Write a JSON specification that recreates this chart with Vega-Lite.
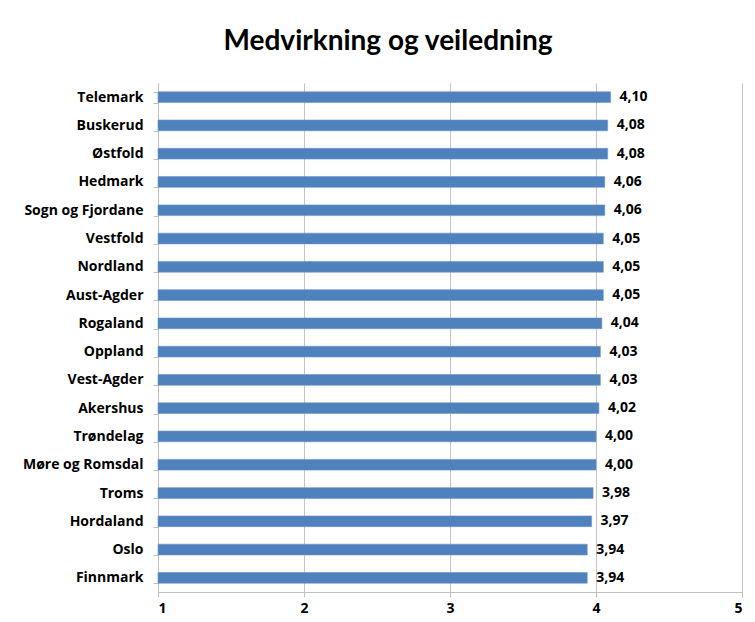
{
  "$schema": "https://vega.github.io/schema/vega-lite/v6.json",
  "width": 584,
  "height": 509,
  "autosize": {"type": "none"},
  "padding": {"left": 158, "top": 83, "right": 13, "bottom": 30},
  "background": "white",
  "config": {
    "locale": {"number": {"decimal": ",", "thousands": " ", "grouping": [3], "currency": ["", " kr"]}},
    "view": {"stroke": null},
    "font": "Open Sans"
  },
  "title": {
    "text": "Medvirkning og veiledning",
    "font": "Lato",
    "fontSize": 28,
    "fontWeight": "bold",
    "color": "#000000",
    "anchor": "middle",
    "frame": "group",
    "dx": -62,
    "offset": 20
  },
  "data": {
    "values": [
      {"fylke": "Telemark", "verdi": 4.10},
      {"fylke": "Buskerud", "verdi": 4.08},
      {"fylke": "Østfold", "verdi": 4.08},
      {"fylke": "Hedmark", "verdi": 4.06},
      {"fylke": "Sogn og Fjordane", "verdi": 4.06},
      {"fylke": "Vestfold", "verdi": 4.05},
      {"fylke": "Nordland", "verdi": 4.05},
      {"fylke": "Aust-Agder", "verdi": 4.05},
      {"fylke": "Rogaland", "verdi": 4.04},
      {"fylke": "Oppland", "verdi": 4.03},
      {"fylke": "Vest-Agder", "verdi": 4.03},
      {"fylke": "Akershus", "verdi": 4.02},
      {"fylke": "Trøndelag", "verdi": 4.00},
      {"fylke": "Møre og Romsdal", "verdi": 4.00},
      {"fylke": "Troms", "verdi": 3.98},
      {"fylke": "Hordaland", "verdi": 3.97},
      {"fylke": "Oslo", "verdi": 3.94},
      {"fylke": "Finnmark", "verdi": 3.94}
    ]
  },
  "encoding": {
    "y": {
      "field": "fylke",
      "type": "nominal",
      "sort": null,
      "scale": {"paddingInner": 0.62, "paddingOuter": 0.31},
      "axis": {
        "title": null,
        "tickBand": "extent",
        "domainColor": "#bfbfbf",
        "tickColor": "#bfbfbf",
        "tickSize": 5,
        "labelFont": "Open Sans",
        "labelFontSize": 14,
        "labelFontWeight": "bold",
        "labelColor": "#000000",
        "labelPadding": 10
      }
    },
    "x": {
      "field": "verdi",
      "type": "quantitative",
      "scale": {"domain": [1, 5], "zero": false, "nice": false},
      "axis": {
        "title": null,
        "values": [1, 2, 3, 4, 5],
        "format": "d",
        "grid": true,
        "gridColor": "#c4c4c4",
        "domainColor": "#bfbfbf",
        "tickColor": "#bfbfbf",
        "tickSize": 5,
        "labelFont": "Open Sans",
        "labelFontSize": 14,
        "labelFontWeight": "bold",
        "labelColor": "#000000",
        "labelPadding": 4
      }
    }
  },
  "layer": [
    {
      "mark": {"type": "bar", "color": "#4F81BD", "stroke": "#6a95cc", "strokeWidth": 0.6},
      "encoding": {"x2": {"datum": 1}}
    },
    {
      "mark": {"type": "text", "align": "left", "baseline": "middle", "dx": 9, "font": "Open Sans", "fontSize": 14, "fontWeight": "bold", "color": "#000000"},
      "encoding": {"text": {"field": "verdi", "type": "quantitative", "format": ".2f"}}
    }
  ]
}
